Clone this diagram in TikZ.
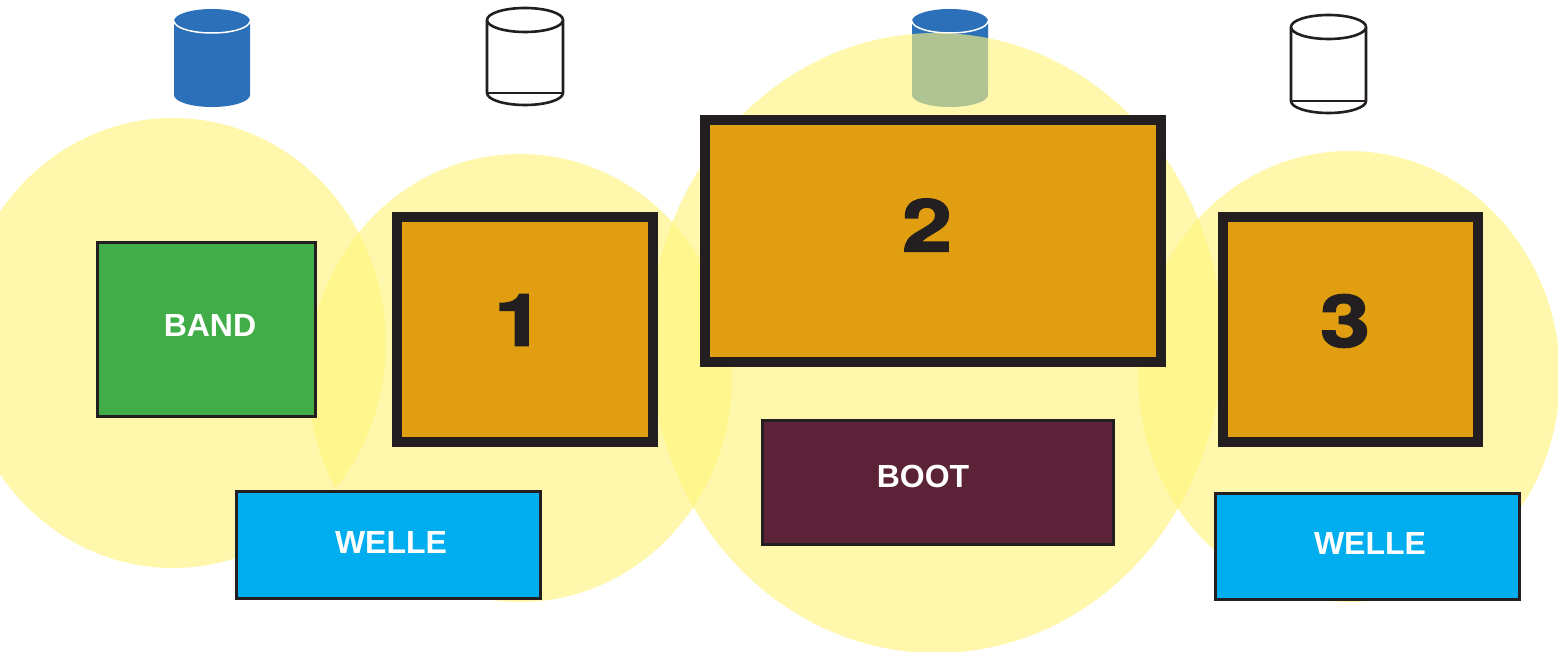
\documentclass[tikz,border=0pt]{standalone}
\usepackage{fontspec}
\usepackage{xcolor}
\setmainfont{Liberation Sans}
\newfontfamily\digitfont[FakeBold=2.2,FakeStretch=1.24]{TeX Gyre Heros Bold}
\definecolor{inkdark}{HTML}{231F20}
\definecolor{drumblue}{HTML}{2B70B9}
\definecolor{glowyellow}{HTML}{FFF57C}
\definecolor{deckorange}{HTML}{E09E10}
\definecolor{bandgreen}{HTML}{41AD49}
\definecolor{welleblue}{HTML}{00ADEF}
\definecolor{bootred}{HTML}{5B2238}

\begin{document}
\begin{tikzpicture}[x=0.01cm,y=-0.01cm]
    \tikzstyle{glow}=[fill=glowyellow, fill opacity=0.63]
    \tikzstyle{bluedrum}=[fill=drumblue]
    \tikzstyle{drumrim}=[draw=white, line width=0.15mm]
    \tikzstyle{emptydrum}=[draw=inkdark, fill=white, line width=0.26mm]
    \tikzstyle{deck}=[draw=inkdark, fill=deckorange, line width=1mm]
    \tikzstyle{thinbox}=[draw=inkdark, line width=0.27mm]
    \tikzstyle{digit}=[inkdark, font=\fontsize{20.6}{24}\digitfont]
    \tikzstyle{tag}=[white, font=\fontsize{9.1}{11}\selectfont\bfseries]
    \clip (0,0) rectangle (1558,652);
    \fill[white] (0,0) rectangle (1558,652);

    \fill[bluedrum] (174,21) arc (180:360:38 and 12) -- (250,95) arc (0:180:38 and 12) -- cycle;
    \draw[drumrim] (174,21) arc (180:0:38 and 12);
    \fill[bluedrum] (912,21) arc (180:360:38 and 12) -- (988,95) arc (0:180:38 and 12) -- cycle;
    \draw[drumrim] (912,21) arc (180:0:38 and 12);

    \draw[emptydrum] (487,20) arc (180:360:38 and 12) -- (563,93) arc (0:180:38 and 12) -- cycle;
    \draw[emptydrum] (487,20) arc (180:0:38 and 12);
    \draw[emptydrum] (487,93) -- (563,93);
    \draw[emptydrum] (1291,27) arc (180:360:37.5 and 12) -- (1366,101) arc (0:180:37.5 and 12) -- cycle;
    \draw[emptydrum] (1291,27) arc (180:0:37.5 and 12);
    \draw[emptydrum] (1291,101) -- (1366,101);

    \fill[glow] (173,343) ellipse (213 and 225);
    \fill[glow] (520,378) ellipse (212 and 224);
    \fill[glow] (936,343) ellipse (286 and 310);
    \fill[glow] (1349,376.5) ellipse (211 and 225.5);

    \node[thinbox, fill=bandgreen, minimum width=2.18cm, minimum height=1.74cm] (band) at (206.5,329.5){};
    \node[deck, minimum width=2.56cm, minimum height=2.25cm] (one) at (525,329.5){};
    \node[deck, minimum width=4.56cm, minimum height=2.42cm] (two) at (933,241){};
    \node[deck, minimum width=2.55cm, minimum height=2.25cm] (three) at (1350.5,329.5){};
    \node[thinbox, fill=bootred, minimum width=3.51cm, minimum height=1.24cm] (boot) at (938,482.5){};
    \node[thinbox, fill=welleblue, minimum width=3.04cm, minimum height=1.07cm] (wellea) at (388.5,545){};
    \node[thinbox, fill=welleblue, minimum width=3.04cm, minimum height=1.06cm] (welleb) at (1367.5,546.5){};

    \node[tag] (bandtext) at (210,325){BAND};
    \node[tag] (boottext) at (923,476){BOOT};
    \node[tag] (welleatext) at (391,542){WELLE};
    \node[tag] (wellebtext) at (1370,543){WELLE};
    \node[digit] (onetext) at (519,320){1};
    \node[digit] (twotext) at (927,225){2};
    \node[digit] (threetext) at (1345,321){3};
\end{tikzpicture}
\end{document}
